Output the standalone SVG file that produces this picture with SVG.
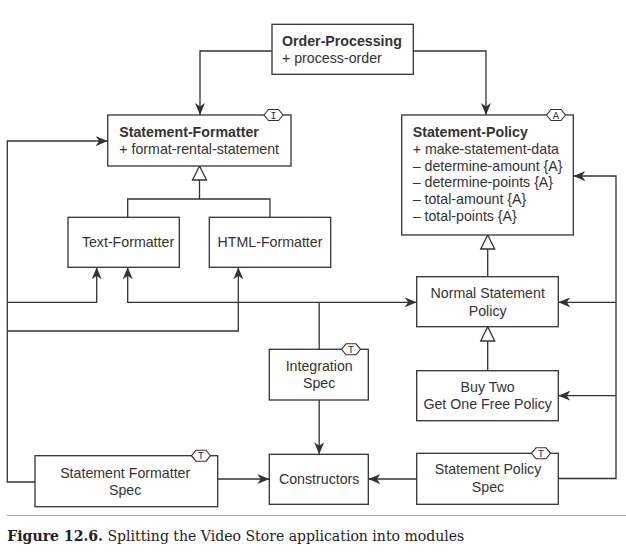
<svg xmlns="http://www.w3.org/2000/svg" width="626" height="555" viewBox="0 0 626 555">
<style>
.box{fill:#fff;stroke:#333;stroke-width:1.3}
.con{fill:none;stroke:#333;stroke-width:1.3}
.tri{fill:#fff;stroke:#333;stroke-width:1.3}
.tag{fill:#fff;stroke:#333;stroke-width:1.1}
.t{font-family:"Liberation Sans",Arial,sans-serif;font-size:14.2px;fill:#333}
.c{text-anchor:middle}
.b{font-weight:bold}
.tl{font-family:"Liberation Mono","Courier New",monospace;font-size:10.5px;fill:#333;text-anchor:middle}
.cap{font-family:"DejaVu Serif","Liberation Serif",serif;font-size:15px;fill:#222}
</style>
<defs>
<marker id="arr" viewBox="0 0 12 10" refX="12" refY="5" markerWidth="12" markerHeight="10" markerUnits="userSpaceOnUse" orient="auto">
<path d="M0,0 L12,5 L0,10 L3.5,5 Z" fill="#333"/>
</marker>
</defs>
<rect width="626" height="555" fill="#fff"/>

<g id="connectors">
<path class="con" d="M272,51 H200 V115" marker-end="url(#arr)"/>
<path class="con" d="M413,51 H486 V115" marker-end="url(#arr)"/>
<path class="con" d="M35,482 H7.3 V141 H107.7" marker-end="url(#arr)"/>
<path class="con" d="M7.3,302.3 H96.7 V267.3" marker-end="url(#arr)"/>
<path class="con" d="M7.3,331 H238.3 V267.3" marker-end="url(#arr)"/>
<path class="con" d="M319.2,302.3 H127.7 V267.3" marker-end="url(#arr)"/>
<path class="con" d="M319.2,302.3 H416.7" marker-end="url(#arr)"/>
<path class="con" d="M319.2,349.3 V302.3"/>
<path class="con" d="M319.2,400 V454.3" marker-end="url(#arr)"/>
<path class="con" d="M217.7,479 H269.3" marker-end="url(#arr)"/>
<path class="con" d="M416.7,479 H368.3" marker-end="url(#arr)"/>
<path class="con" d="M558.3,478.5 H616 V176 H573.3" marker-end="url(#arr)"/>
<path class="con" d="M616,302.3 H558.3" marker-end="url(#arr)"/>
<path class="con" d="M616,395.7 H558.3" marker-end="url(#arr)"/>
<path class="con" d="M199.5,180 V199 M127.7,217.3 V199 H270 V217.3"/>
<polygon class="tri" points="199.5,166 192.5,180 206.5,180"/>
<path class="con" d="M487.7,249 V276.7"/>
<polygon class="tri" points="487.7,235 480.7,249 494.7,249"/>
<path class="con" d="M487.7,341 V370.7"/>
<polygon class="tri" points="487.7,326.7 480.7,341 494.7,341"/>
</g>

<g id="order-processing">
<rect class="box" x="272" y="24.3" width="141.3" height="50"/>
<text class="t b" x="282" y="46">Order-Processing</text>
<text class="t" x="282" y="63.3">+ process-order</text>
</g>

<g id="statement-formatter">
<rect class="box" x="107.7" y="115" width="183.3" height="51"/>
<text class="t b" x="119.3" y="136.7">Statement-Formatter</text>
<text class="t" x="119.3" y="154">+ format-rental-statement</text>
<polygon class="tag" points="264,115 268.5,109.5 278.5,109.5 283,115 278.5,120.5 268.5,120.5"/>
<text class="tl" x="273.5" y="118.7">I</text>
</g>

<g id="statement-policy">
<rect class="box" x="401.7" y="115" width="171.6" height="120"/>
<text class="t b" x="412.7" y="136.7">Statement-Policy</text>
<text class="t" x="412.7" y="154">+ make-statement-data</text>
<text class="t" x="412.7" y="170.7">– determine-amount {A}</text>
<text class="t" x="412.7" y="187.3">– determine-points {A}</text>
<text class="t" x="412.7" y="204">– total-amount {A}</text>
<text class="t" x="412.7" y="220.7">– total-points {A}</text>
<polygon class="tag" points="546.5,115 551,109.5 561,109.5 565.5,115 561,120.5 551,120.5"/>
<text class="tl" x="556" y="118.7">A</text>
</g>

<g id="text-formatter">
<rect class="box" x="68" y="217.3" width="111.3" height="50"/>
<text class="t c" x="128" y="247">Text-Formatter</text>
</g>

<g id="html-formatter">
<rect class="box" x="209.3" y="217.3" width="121.4" height="50"/>
<text class="t c" x="270" y="247">HTML-Formatter</text>
</g>

<g id="normal-statement-policy">
<rect class="box" x="416.7" y="276.7" width="141.6" height="50"/>
<text class="t c" x="487.7" y="298.3">Normal Statement</text>
<text class="t c" x="487.7" y="315.7">Policy</text>
</g>

<g id="buy-two-policy">
<rect class="box" x="416.7" y="370.7" width="141.6" height="50"/>
<text class="t c" x="487.7" y="391.7">Buy Two</text>
<text class="t c" x="487.7" y="409">Get One Free Policy</text>
</g>

<g id="integration-spec">
<rect class="box" x="269.3" y="349.3" width="99" height="50.7"/>
<text class="t c" x="319.2" y="370.7">Integration</text>
<text class="t c" x="319.2" y="388.3">Spec</text>
<polygon class="tag" points="341.5,349.3 346,343.8 356,343.8 360.5,349.3 356,354.8 346,354.8"/>
<text class="tl" x="351" y="353">T</text>
</g>

<g id="constructors">
<rect class="box" x="269.3" y="454.3" width="99" height="50"/>
<text class="t c" x="319.2" y="484.3">Constructors</text>
</g>

<g id="statement-formatter-spec">
<rect class="box" x="35" y="455.7" width="182.7" height="51"/>
<text class="t c" x="125.2" y="477.7">Statement Formatter</text>
<text class="t c" x="125.2" y="495">Spec</text>
<polygon class="tag" points="191.5,455.7 196,450.2 206,450.2 210.5,455.7 206,461.2 196,461.2"/>
<text class="tl" x="201" y="459.4">T</text>
</g>

<g id="statement-policy-spec">
<rect class="box" x="416.7" y="453.3" width="141.6" height="51"/>
<text class="t c" x="488" y="474">Statement Policy</text>
<text class="t c" x="488" y="491.7">Spec</text>
<polygon class="tag" points="531.5,453.3 536,447.8 546,447.8 550.5,453.3 546,458.8 536,458.8"/>
<text class="tl" x="541" y="457">T</text>
</g>

<g id="caption">
<line x1="7" y1="515.5" x2="626" y2="515.5" stroke="#aaa" stroke-width="1"/>
<text class="cap" x="7.3" y="540.5" textLength="457" lengthAdjust="spacingAndGlyphs"><tspan font-weight="bold">Figure 12.6.</tspan> Splitting the Video Store application into modules</text>
</g>
</svg>
